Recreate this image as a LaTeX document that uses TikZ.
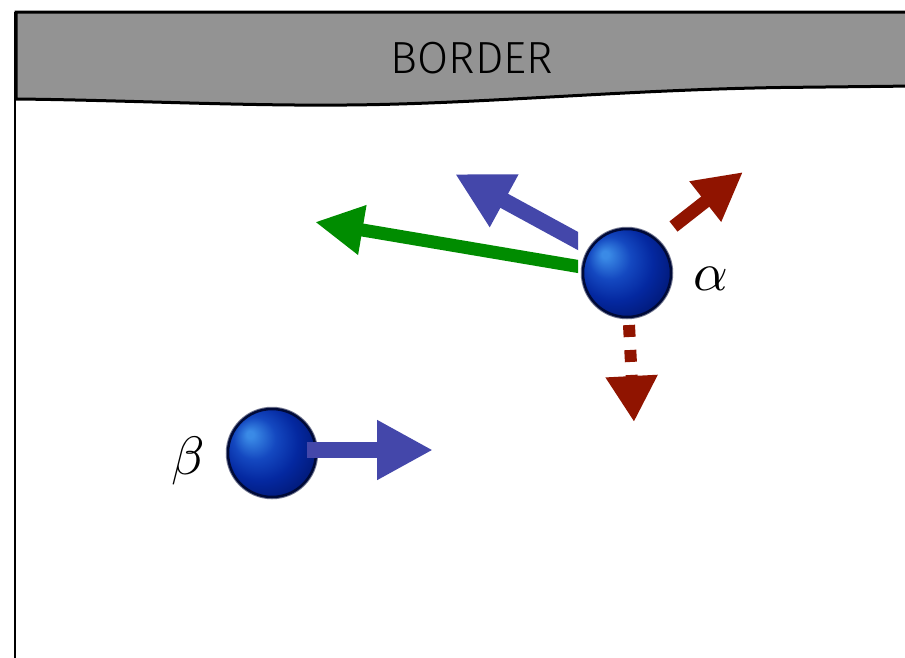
\documentclass[tikz,border=0pt]{standalone}
\usepackage{fontspec}
\usepackage{graphicx}
\newfontfamily\borderfont{Fira Sans Light}
\usetikzlibrary{arrows.meta}
\definecolor{bandgray}{HTML}{939393}
\definecolor{arrblue}{HTML}{4447AA}
\definecolor{arrgreen}{HTML}{008C00}
\definecolor{arrred}{HTML}{901400}
\definecolor{ballhl}{HTML}{3A8AE6}
\definecolor{ballmid}{HTML}{1448C0}
\definecolor{ballmain}{HTML}{0428A0}
\definecolor{balldark}{HTML}{021C80}
\definecolor{ballrim}{HTML}{000A38}
\pgfdeclareradialshading{myball}{\pgfpoint{-13bp}{11bp}}{color(0bp)=(ballhl); color(2bp)=(ballhl); color(12bp)=(ballmid); color(22bp)=(ballmain); color(30bp)=(balldark); color(50bp)=(balldark)}
\begin{document}
\begin{tikzpicture}[x=1pt,y=-1pt,
  ballnode/.style={circle, minimum size=88pt, inner sep=0pt, outer sep=0pt,
    shading=myball, draw=ballrim, line width=2.5pt,
    preaction={draw=ballrim, line width=4.5pt, draw opacity=0.55}},
  greekfont/.style={inner sep=0pt},
  bluearrow/.style={draw=arrblue, line width=16pt, -{Triangle[length=56pt,width=56pt]}},
  greenarrow/.style={draw=arrgreen, line width=13pt, -{Triangle[length=48pt,width=47pt]}},
  redarrow/.style={draw=arrred, line width=13pt, -{Triangle[length=48pt,width=48pt]}},
  reddotarrow/.style={draw=arrred, line width=12pt, dash pattern=on 12pt off 13pt, -{Triangle[length=46pt,width=49pt]}}
]
\useasboundingbox (0,0) rectangle (905,657);
\clip (0,0) rectangle (905,657);
\fill[white] (0,0) rectangle (905,657);
% frame left line
\draw[line width=2pt] (15,12) -- (15,662);
% gray band
\draw[fill=bandgray, line width=3pt, line join=miter]
  (16,12) -- (915,12) -- (915,86) -- (780,87.5)
  .. controls (620,90) and (480,104) .. (346,105)
  .. controls (240,106) and (120,100) .. (16,99) -- cycle;
\node[font=\borderfont\fontsize{45}{52}\selectfont, inner sep=0pt] (bordertext) at (472,58) {BORDER};
% balls
\node[ballnode] (alpha) at (627,273) {};
\node[ballnode] (beta) at (272,453) {};
% labels
\node[greekfont] (alab) at (711,279) {\scalebox{5.4}{$\alpha$}};
\node[greekfont] (blab) at (188,461) {\scalebox{5.4}{$\beta$}};
% arrow tips
\coordinate (greentip) at (315,222);
\coordinate (bluetip) at (455,174);
\coordinate (redtip) at (743,172);
\coordinate (dottip) at (634,422);
\coordinate (betatip) at (433,450);
% arrows
\begin{scope}
  \clip (0,0) rectangle (578,657);
  \draw[greenarrow] ([shift={(-47,-6.2)}]alpha.center) -- (greentip);
  \draw[bluearrow] ([shift={(-44.6,-29.6)}]alpha.center) -- (bluetip);
\end{scope}
\draw[redarrow] ([shift={(46.5,-46.5)}]alpha.center) -- (redtip);
\draw[reddotarrow] ([shift={(2,52)}]alpha.center) -- (dottip);
\draw[bluearrow] ([shift={(-9,-3)}]beta.east) -- (betatip);
\end{tikzpicture}
\end{document}
